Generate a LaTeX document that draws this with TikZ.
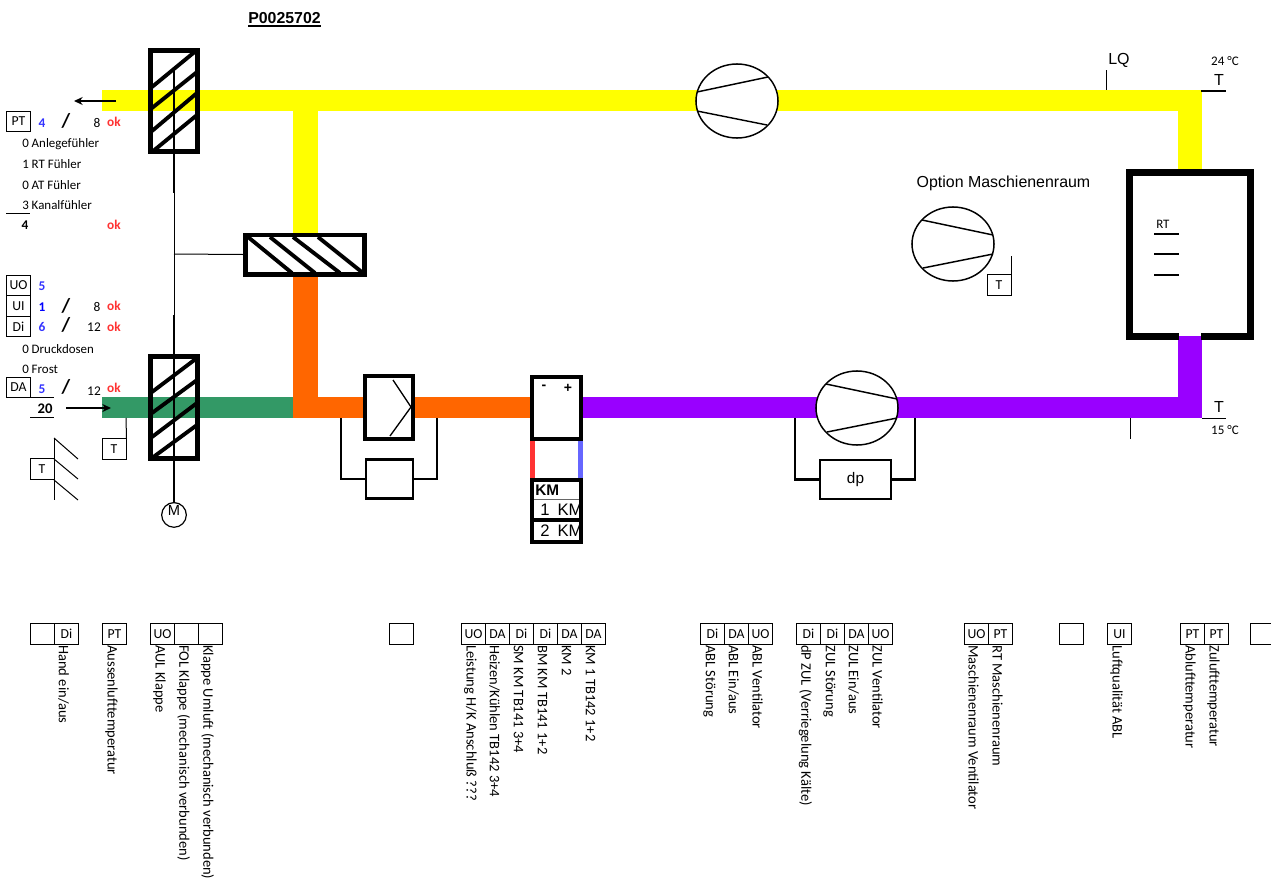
\documentclass[tikz,border=0pt]{standalone}
\usepackage{fontspec}
\setmainfont{Carlito}
\newfontfamily\arialfont{Liberation Sans}
\usepackage{xcolor}
\usetikzlibrary{arrows.meta, positioning, calc}
\definecolor{ductyellow}{HTML}{FFFF00}
\definecolor{ductorange}{HTML}{FF6600}
\definecolor{ductgreen}{HTML}{339966}
\definecolor{ductpurple}{HTML}{9900FF}
\definecolor{okred}{HTML}{FF3333}
\definecolor{numblue}{HTML}{3333FF}
\definecolor{coilblue}{HTML}{6666FF}
\tikzset{
  heavy/.style={draw=black, line width=3.4pt},
  medium/.style={draw=black, line width=1.9pt},
  thin line/.style={draw=black, line width=0.75pt},
  damperbox/.style={heavy, fill=none, inner sep=0pt},
  tagbox/.style={draw=black, line width=0.75pt, minimum width=18pt, minimum height=15.4pt, inner sep=0pt, font=\fontsize{10.3}{10.3}\selectfont, fill=white},
  cellbox/.style={tagbox, anchor=north west},
  celltext/.style={rotate=-90, anchor=west, inner sep=0pt, font=\fontsize{10.9}{10.9}\selectfont},
  lefttext/.style={anchor=west, inner sep=0pt, font=\fontsize{9.7}{9.7}\selectfont},
  count/.style={inner sep=0pt, text=numblue, font=\bfseries\fontsize{10}{10}\selectfont},
  okmark/.style={inner sep=0pt, text=okred, font=\bfseries\fontsize{10}{10}\selectfont},
  slash/.style={inner sep=0pt, font=\bfseries\fontsize{15}{15}\selectfont},
  armark/.style={inner sep=0pt, font=\arialfont\fontsize{12}{12}\selectfont},
  flow/.style={line width=1.6pt, -{Stealth[length=6.5pt,width=6pt]}},
  fansym/.pic={
    \draw[line width=1.1pt, fill=white] (0,0) ellipse[x radius=30.75pt, y radius=27.75pt];
    \draw[line width=1.1pt] (-31,-24) -- (40,-9);
    \draw[line width=1.1pt] (-30,24) -- (40,10);
    \foreach \dx/\dy in {0/-37, 0/37, -41/0, 41/0} {
        \fill (\dx,\dy) circle[radius=0.7pt];
    }
  }
}
\begin{document}
\begin{tikzpicture}[x=0.75pt, y=-0.75pt]
    \useasboundingbox (0,0) rectangle (1271,878);

    % ducts
    \fill[ductyellow] (102,90) rectangle (1202,111);
    \fill[ductyellow] (1178,90) rectangle (1202,172);
    \fill[ductyellow] (293,111) rectangle (318,236);
    \fill[ductorange] (293,272) rectangle (318,418);
    \fill[ductorange] (293,397) rectangle (534,418);
    \fill[ductgreen] (102,397) rectangle (293,418);
    \fill[ductpurple] (580,397) rectangle (1202,418);
    \fill[ductpurple] (1178,336) rectangle (1202,418);

    \node[armark, font=\arialfont\bfseries\fontsize{11.9}{11.9}\selectfont] (title) at (284.5,18.5) {P0025702};
    \draw[line width=1pt] (title.south west) ++(0,1.5) coordinate (ulA) -- (ulA -| title.south east);

    % dampers
    \node[damperbox, minimum width=35.6pt, minimum height=76.1pt] (topdamper) at (174,101) {};
    \node[damperbox, minimum width=35.6pt, minimum height=76.6pt] (botdamper) at (174,407.5) {};
    \node[damperbox, minimum width=89.6pt, minimum height=29.6pt] (middamper) at (305,254.5) {};
    \foreach \ya/\yb in {87/50, 108/72, 131/93, 152/115} {
        \draw[medium, line width=2.9pt] (152,\ya) -- (197,\yb);
    }
    \foreach \ya/\yb in {392/358, 413/380, 437/403, 458/425} {
        \draw[medium, line width=2.9pt] (152,\ya) -- (197,\yb);
    }
    \foreach \xa/\xb in {248/292, 270/315, 293/340, 318/363} {
        \draw[medium, line width=2.9pt] (\xa,237) -- (\xb,273);
    }
    \coordinate (shaftA) at (174,70);
    \coordinate (shaftB) at (174,193);
    \coordinate (shaftC) at (174,315);
    \coordinate (shaftD) at (174,502);
    \node[draw, circle, line width=0.9pt, minimum width=18.5pt, inner sep=0pt, anchor=north] (motor) at (shaftD) {};
    \node[armark, font=\arialfont\fontsize{11}{11}\selectfont] (motorlabel) at (174,510) {M};
    \draw[line width=1.1pt] (shaftA) -- (topdamper.south);
    \draw[line width=1.8pt] (topdamper.south) -- (shaftB);
    \draw[thin line] (shaftB) -- (shaftC);
    \draw[line width=1.8pt] (shaftC) -- (botdamper.north);
    \draw[line width=1.1pt] (botdamper.north) -- (botdamper.south);
    \draw[line width=1.8pt] (botdamper.south) -- (motor.north);
    \draw[thin line] (174,254) -- (middamper.west);

    % filter and heater
    \node[heavy, line width=3pt, fill=white, minimum width=36pt, minimum height=47pt, inner sep=0pt] (flap) at (389,407.5) {};
    \draw[line width=1pt] (393,380) -- (411,407) -- (390,436);
    \node[medium, fill=white, minimum width=35pt, minimum height=29.5pt, inner sep=0pt] (bypass) at (389.5,479) {};
    \draw[medium] (341,418) |- (bypass.west);
    \draw[medium] (437,418) |- (bypass.east);

    % coil
    \fill[okred] (530,438) rectangle (535,480);
    \fill[coilblue] (578,438) rectangle (583,480);
    \node[heavy, line width=3pt, fill=white, minimum width=36.5pt, minimum height=46.5pt, inner sep=0pt] (coil) at (556.5,407.5) {};
    \node[font=\bfseries\arialfont\fontsize{10.5}{10.5}\selectfont, inner sep=0pt] (minus) at (544,387) {-};
    \node[font=\bfseries\arialfont\fontsize{10.5}{10.5}\selectfont, inner sep=0pt] (plus) at (568,388) {+};
    \begin{scope}
      \clip (534,480) rectangle (578.5,543);
      \node[armark, font=\arialfont\bfseries\fontsize{11.5}{11.5}\selectfont, anchor=west] (kmhead) at (535,490) {KM};
      \node[armark, font=\arialfont\fontsize{12.5}{12.5}\selectfont, anchor=west] (kmone) at (540,510) {1\hspace{6pt}KM};
      \node[armark, font=\arialfont\fontsize{12.5}{12.5}\selectfont, anchor=west] (kmtwo) at (540,531) {2\hspace{6pt}KM};
    \end{scope}
    \draw[line width=0.6pt, black!60] (534,499.5) -- (579,499.5);
    \draw[medium, line width=2.4pt] (532,520) -- (581,520);
    \node[heavy, line width=3pt, minimum width=36.5pt, minimum height=46.5pt, inner sep=0pt] (kmbox) at (556.5,511) {};

    % fans
    \pic[xscale=-1] at (737,101) {fansym};
    \pic at (857,408) {fansym};
    \pic at (953,244) {fansym};
    \node[medium, fill=white, minimum width=53pt, minimum height=29pt, inner sep=0pt] (dpbox) at (855.5,479.5) {\arialfont\fontsize{11.5}{11.5}\selectfont dp};
    \draw[medium] (795,418) |- (dpbox.west);
    \draw[medium] (915,418) |- (dpbox.east);
    \node[armark, font=\arialfont\fontsize{11.95}{11.95}\selectfont] (option) at (1003.5,183) {Option Maschienenraum};
    \node[tagbox] (optT) at (999,285) {T};
    \draw[thin line] (optT.south east) -- ++(0,-40);

    % room
    \coordinate (gapL) at (1179,336.5);
    \coordinate (gapR) at (1201,336.5);
    \draw[line width=5.2pt, miter limit=10] (gapL) -- (1129.5,336.5) -- (1129.5,172.5) -- (1250.5,172.5) -- (1250.5,336.5) -- (gapR);
    \node[lefttext] (rtlabel) at (1156,224) {RT};
    \foreach \yy in {234,254,275} {
        \draw[line width=1.6pt] (1154,\yy) -- (1179,\yy);
    }

    % sensors
    \node[armark] (lqlabel) at (1119,60) {LQ};
    \draw[thin line] (1106,70) -- (1106,90);
    \node[lefttext, font=\fontsize{9.8}{9.8}\selectfont, anchor=center] (temphigh) at (1225,61) {24 °C};
    \node[armark] (thigh) at (1219,80) {T};
    \draw[line width=1.5pt] (1201,91) -- (1226,91);
    \node[armark] (tlow) at (1219,407) {T};
    \draw[thin line] (1202,418) -- (1226,418);
    \node[lefttext, font=\fontsize{9.8}{9.8}\selectfont, anchor=center] (templow) at (1225,430) {15 °C};
    \draw[thin line] (1130,418) -- (1130,439);

    % outside air
    \draw[flow] (116,101) -- (74,101);
    \draw[flow] (66,408) -- (111,408);
    \node[tagbox] (outT) at (114,449) {T};
    \draw[thin line] (outT.north east) -- (126,418);
    \node[tagbox] (wallT) at (42,469) {T};
    \draw[thin line] (54,438) -- (54,500);
    \draw[thin line] (54,438) -- (78,459);
    \draw[thin line] (54,459) -- (78,479);
    \draw[thin line] (54,480) -- (78,500);

    % counts
    \node[tagbox] (ptbox) at (18.5,121.5) {PT};
    \node[count] (ptn) at (42,123) {4};
    \node[slash] (pts) at (66,121) {/};
    \node[inner sep=0pt, font=\fontsize{10}{10}\selectfont] (ptm) at (97,123) {8};
    \node[okmark] (ptok) at (114,122) {ok};
    \node[lefttext] (ta) at (22,144) {0 Anlegefühler};
    \node[lefttext] (tb) at (22,164) {1 RT Fühler};
    \node[lefttext] (tc) at (22,185) {0 AT Fühler};
    \node[lefttext] (td) at (22,205) {3 Kanalfühler};
    \draw[thin line] (6,213) -- (30,213);
    \node[count, text=black] (pttotal) at (25,225) {4};
    \node[okmark] (totalok) at (114,225) {ok};

    \node[tagbox] (uobox) at (18.5,285.5) {UO};
    \node[tagbox] (uibox) at (18.5,306) {UI};
    \node[tagbox] (dibox) at (18.5,326.5) {Di};
    \node[count] (uon) at (42,286) {5};
    \node[count, text=blue] (uin) at (42,307) {1};
    \node[slash] (uis) at (66,306) {/};
    \node[inner sep=0pt, font=\fontsize{10}{10}\selectfont] (uim) at (97,307) {8};
    \node[okmark] (uiok) at (114,306) {ok};
    \node[count] (din) at (42,327) {6};
    \node[slash] (dis) at (66,325) {/};
    \node[inner sep=0pt, font=\fontsize{10}{10}\selectfont] (dim) at (94,327) {12};
    \node[okmark] (diok) at (114,327) {ok};
    \node[lefttext] (te) at (22,349) {0 Druckdosen};
    \node[lefttext] (tf) at (22,369) {0 Frost};
    \node[tagbox] (dabox) at (18.5,387.5) {DA};
    \node[count] (dan) at (42,389) {5};
    \node[slash] (das) at (66,387) {/};
    \node[inner sep=0pt, font=\fontsize{10}{10}\selectfont] (dam) at (94,391) {12};
    \node[okmark] (daok) at (114,388) {ok};
    \draw[thin line] (30,397.5) -- (54,397.5);
    \node[count, text=black, font=\bfseries\fontsize{11}{11}\selectfont] (grandtotal) at (45,409) {20};
    \draw[thin line, double, double distance=0.6pt] (30,418) -- (54,418);

    % terminal strip
    \foreach \xx/\tp/\txt [count=\i] in {
        30//{}, 54/Di/{Hand ein/aus}, 102/PT/{Aussenlufttemperatur},
        150/UO/{AUL Klappe}, 174//{FOL Klappe (mechanisch verbunden)},
        198//{Klappe Umluft (mechanisch verbunden)}, 389//{},
        461/UO/{Leistung H/K Anschluß ???}, 485/DA/{Heizen/Kühlen TB142 3+4},
        509/Di/{SM KM TB141 3+4}, 533/Di/{BM KM TB141 1+2}, 557/DA/{KM 2},
        581/DA/{KM 1 TB142 1+2}, 700/Di/{ABL Störung}, 724/DA/{ABL Ein/aus},
        748/UO/{ABL Ventilator}, 796/Di/{dP ZUL (Verriegelung Kälte)},
        820/Di/{ZUL Störung}, 844/DA/{ZUL Ein/aus}, 868/UO/{ZUL Ventilator},
        964/UO/{Maschienenraum Ventilator}, 988/PT/{RT Maschienenraum}, 1059//{},
        1107/UI/{Luftqualität ABL}, 1180/PT/{Ablufttemperatur},
        1204/PT/{Zulufttemperatur}, 1250//{}} {
        \node[cellbox] (cell\i) at (\xx,623) {\tp};
        \node[celltext] (celltxt\i) at ($(\xx,645)+(9.5,0)$) {\txt};
    }
\end{tikzpicture}
\end{document}
